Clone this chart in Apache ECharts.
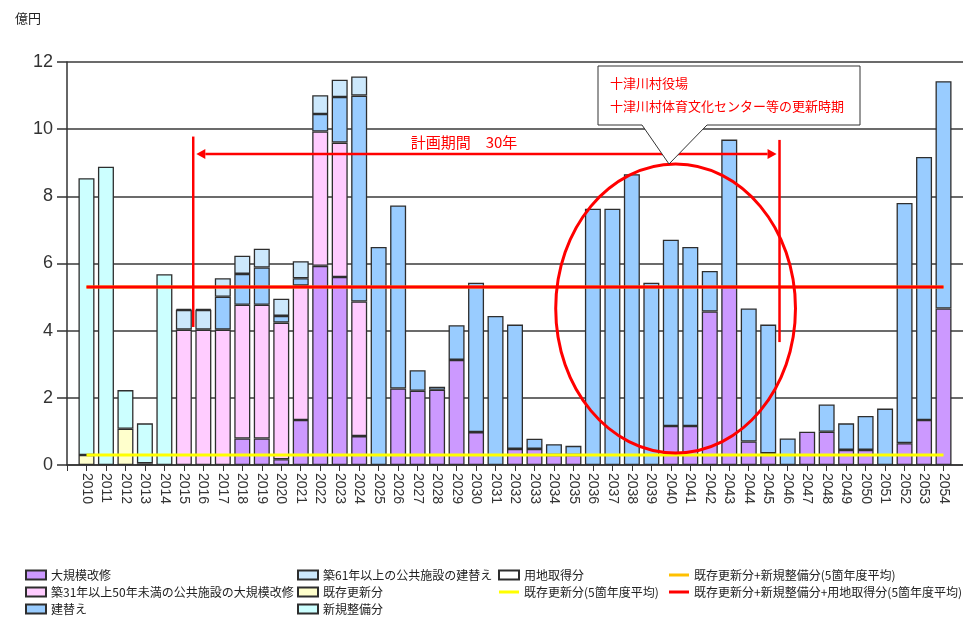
<!DOCTYPE html>
<html>
<head>
<meta charset="utf-8">
<script src="https://cdn.jsdelivr.net/npm/echarts@6/dist/echarts.min.js"></script>
<style>
  html, body { margin: 0; padding: 0; background: #fff; }
  #chart { width: 963px; height: 620px; }
</style>
</head>
<body>
<div id="chart"></div>
<script>
// 年度
var years = ['2010','2011','2012','2013','2014','2015','2016','2017','2018','2019',
             '2020','2021','2022','2023','2024','2025','2026','2027','2028','2029',
             '2030','2031','2032','2033','2034','2035','2036','2037','2038','2039',
             '2040','2041','2042','2043','2044','2045','2046','2047','2048','2049',
             '2050','2051','2052','2053','2054'];

// 億円
var daikibo   = [0,0,0,0,0,0,0,0,0.79,0.79, 0.17,1.34,5.93,5.6,0.86,0,2.28,2.21,2.24,3.13,
                 0.98,0,0.48,0.48,0.3,0.3,0,0,0,0, 1.16,1.16,4.57,5.3,0.7,0.35,0,0.99,0.99,0.45,
                 0.45,0,0.65,1.34,4.66];
var kaishu31  = [0,0,0,0,0,4.03,4.03,4.03,3.98,3.98, 4.07,4.0,4.0,4.0,4.01,0,0,0,0,0,
                 0,0,0,0,0,0,0,0,0,0, 0,0,0,0,0,0,0,0,0,0,
                 0,0,0,0,0];
var tatekae   = [0,0,0,0,0,0,0,0.98,0.92,1.11, 0.2,0.22,0.52,1.36,6.13,6.49,5.45,0.61,0.09,1.03,
                 4.45,4.44,3.70,0.30,0.32,0.27,7.63,7.63,8.66,5.43, 5.55,5.33,1.21,4.39,3.96,3.83,0.79,0,0.81,0.79,
                 1.01,1.68,7.15,7.83,6.77];
var tatekae61 = [0,0,0,0,0,0.59,0.59,0.55,0.54,0.56, 0.51,0.51,0.56,0.51,0.57,0,0,0,0,0,
                 0,0,0,0,0,0,0,0,0,0, 0,0,0,0,0,0,0,0,0,0,
                 0,0,0,0,0];
var kizon     = [0.3,0,1.08,0.05,0,0,0,0,0,0, 0,0,0,0,0,0,0,0,0,0,
                 0,0,0,0,0,0,0,0,0,0, 0,0,0,0,0,0,0,0,0,0,
                 0,0,0,0,0];
var shinki    = [8.24,8.88,1.15,1.19,5.68,0,0,0,0,0, 0,0,0,0,0,0,0,0,0,0,
                 0,0,0,0,0,0,0,0,0,0, 0,0,0,0,0,0,0,0,0,0,
                 0,0,0,0,0];
var youchi    = [0,0,0,0,0,0.03,0.03,0,0,0, 0,0,0,0,0,0,0,0,0,0,
                 0,0,0,0,0,0,0,0,0,0, 0,0,0,0,0,0,0,0,0,0,
                 0,0,0,0,0];

// 5箇年度平均
var avgKizon       = 0.3;
var avgKizonShinki = 5.3;
var avgAll         = 5.3;

var yTicks = [0, 2, 4, 6, 8, 10, 12];

var JP = '"Noto Sans CJK JP", sans-serif';
var NUM = '"Liberation Sans Narrow", "Liberation Sans", Arial, sans-serif';

// blank category on each side so that the first bar sits one step right of the y axis
var cats = [''].concat(years, ['']);
function pad(arr) {
    return ['-'].concat(arr.map(function (v) { return v === 0 ? '-' : v; }), ['-']);
}

function barSeries(name, data, color) {
    return {
        name: name,
        type: 'bar',
        stack: 'total',
        barWidth: 16,
        data: pad(data),
        itemStyle: { color: color, borderColor: '#2e2e2e', borderWidth: 1.3 },
        emphasis: { disabled: true }
    };
}

function avgSeries(name, v, color) {
    return {
        name: name,
        type: 'line',
        symbol: 'none',
        data: [[years[0], v], [years[years.length - 1], v]],
        lineStyle: { color: color, width: 3 },
        itemStyle: { color: color },
        z: 5
    };
}

var chart = echarts.init(document.getElementById('chart'));

var legendBase = {
    orient: 'vertical',
    top: 568,
    padding: 0,
    itemWidth: 20,
    itemHeight: 9,
    itemGap: 3,
    selectedMode: false,
    textStyle: { fontSize: 12, lineHeight: 14, color: '#222', fontFamily: JP }
};
// bars get a box icon, the average lines a plain stroke
function box(name) { return { name: name, icon: 'rect' }; }
function stroke(name) { return { name: name, icon: 'path://M0,0L20,0L20,3L0,3Z', itemStyle: { borderWidth: 0 } }; }
function legendCol(left, items) {
    return Object.assign({}, legendBase, { left: left, data: items });
}

chart.setOption({
    animation: false,
    backgroundColor: '#fff',
    grid: { left: 67, right: -4, top: 62, bottom: 155 },
    xAxis: {
        type: 'category',
        data: cats,
        boundaryGap: false,
        axisLine: { lineStyle: { color: '#333', width: 1.5 } },
        axisTick: { length: 6, lineStyle: { color: '#333' }, interval: 0 },
        axisLabel: { rotate: -90, interval: 0, fontSize: 14, color: '#333', margin: 8, fontFamily: '"Liberation Sans", Arial, sans-serif' },
        splitLine: { show: false }
    },
    yAxis: {
        type: 'value',
        min: yTicks[0],
        max: yTicks[yTicks.length - 1],
        interval: 2,
        axisLine: { show: true, lineStyle: { color: '#333', width: 1.5 } },
        axisTick: { show: true, length: 10, lineStyle: { color: '#333', width: 1.5 } },
        axisLabel: { fontSize: 18, color: '#333', margin: 14, fontFamily: NUM },
        splitLine: { lineStyle: { color: '#3a3a3a', width: 1.5 } }
    },
    legend: [
        legendCol(25, [box('大規模改修'), box('築31年以上50年未満の公共施設の大規模改修'), box('建替え')]),
        legendCol(297, [box('築61年以上の公共施設の建替え'), box('既存更新分'), box('新規整備分')]),
        legendCol(498, [box('用地取得分'), stroke('既存更新分(5箇年度平均)')]),
        legendCol(669, [stroke('既存更新分+新規整備分(5箇年度平均)'), stroke('既存更新分+新規整備分+用地取得分(5箇年度平均)')])
    ],
    series: [
        barSeries('大規模改修', daikibo, '#cc99ff'),
        barSeries('築31年以上50年未満の公共施設の大規模改修', kaishu31, '#ffccff'),
        barSeries('建替え', tatekae, '#99ccff'),
        barSeries('築61年以上の公共施設の建替え', tatekae61, '#cce8fc'),
        barSeries('既存更新分', kizon, '#ffffcc'),
        barSeries('新規整備分', shinki, '#ccffff'),
        barSeries('用地取得分', youchi, '#ffffff'),
        avgSeries('既存更新分(5箇年度平均)', avgKizon, '#ffff00'),
        avgSeries('既存更新分+新規整備分(5箇年度平均)', avgKizonShinki, '#ffc000'),
        avgSeries('既存更新分+新規整備分+用地取得分(5箇年度平均)', avgAll, '#ff0000')
    ]
});

// annotations, placed in data space (year index, 億円)
var p0 = chart.convertToPixel({ gridIndex: 0 }, [1, 0]);
var p1 = chart.convertToPixel({ gridIndex: 0 }, [2, 1]);
var stepX = p1[0] - p0[0], stepY = p1[1] - p0[1];
function px(i, v) { return [p0[0] + stepX * i, p0[1] + stepY * v]; }

var RED = '#ff0000';
var aL = px(5.64, 9.26), aR = px(35.43, 9.26);
var vL1 = px(5.48, 9.78), vL2 = px(5.48, 4.11);
var vR1 = px(35.58, 9.68), vR2 = px(35.58, 3.66);
var lab = px(19.38, 9.62);
var eTL = px(24.09, 8.96), eBR = px(36.4, 0.36);
var head = 9, hw = 5;

chart.setOption({
    graphic: [
        { type: 'text', left: 15, top: 12, style: { text: '億円', fontSize: 13, fill: '#222', fontFamily: JP } },
        { type: 'line', shape: { x1: aL[0] + head, y1: aL[1], x2: aR[0] - head, y2: aR[1] }, style: { stroke: RED, lineWidth: 2.5 }, z: 10 },
        { type: 'polygon', shape: { points: [[aL[0], aL[1]], [aL[0] + head, aL[1] - hw], [aL[0] + head, aL[1] + hw]] }, style: { fill: RED }, z: 10 },
        { type: 'polygon', shape: { points: [[aR[0], aR[1]], [aR[0] - head, aR[1] - hw], [aR[0] - head, aR[1] + hw]] }, style: { fill: RED }, z: 10 },
        { type: 'line', shape: { x1: vL1[0], y1: vL1[1], x2: vL2[0], y2: vL2[1] }, style: { stroke: RED, lineWidth: 2.5 }, z: 10 },
        { type: 'line', shape: { x1: vR1[0], y1: vR1[1], x2: vR2[0], y2: vR2[1] }, style: { stroke: RED, lineWidth: 2.5 }, z: 10 },
        { type: 'text', x: lab[0], y: lab[1], style: { text: '計画期間　30年', fill: RED, fontSize: 15, fontFamily: JP, align: 'center', verticalAlign: 'middle' }, z: 10 },
        { type: 'ellipse', shape: { cx: (eTL[0] + eBR[0]) / 2, cy: (eTL[1] + eBR[1]) / 2, rx: (eBR[0] - eTL[0]) / 2, ry: (eBR[1] - eTL[1]) / 2 },
          style: { fill: 'none', stroke: RED, lineWidth: 3 }, z: 10 },
        { type: 'polygon', shape: { points: [[598, 66], [860, 66], [860, 125], [707, 125], [669, 164], [642, 125], [598, 125]] },
          style: { fill: '#fff', stroke: '#333', lineWidth: 1 }, z: 11 },
        { type: 'text', left: 610, top: 77, style: { text: '十津川村役場', fill: RED, fontSize: 13, fontFamily: JP }, z: 12 },
        { type: 'text', left: 610, top: 100, style: { text: '十津川村体育文化センター等の更新時期', fill: RED, fontSize: 13, fontFamily: JP }, z: 12 }
    ]
});
</script>
</body>
</html>
